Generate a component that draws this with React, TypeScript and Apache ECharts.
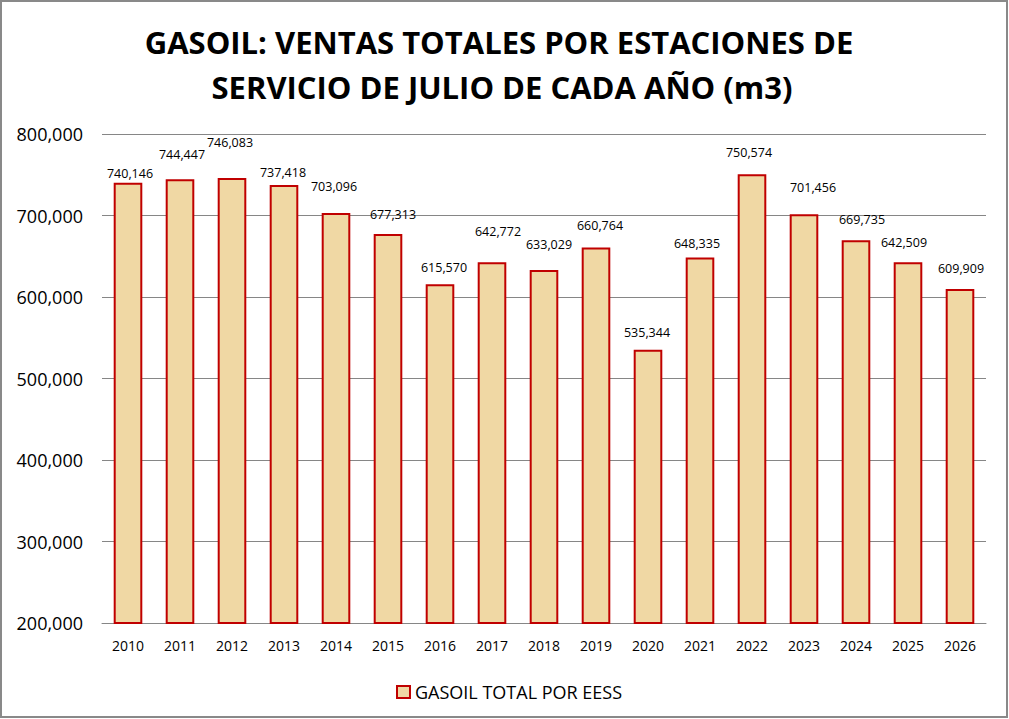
import React, { useEffect, useRef } from "react";
import * as echarts from "echarts";

const years = ["2010","2011","2012","2013","2014","2015","2016","2017","2018","2019","2020","2021","2022","2023","2024","2025","2026"];
const ventas = [740146, 744447, 746083, 737418, 703096, 677313, 615570, 642772, 633029, 660764, 535344, 648335, 750574, 701456, 669735, 642509, 609909];
// manual label nudges (as in the original, where labels were dragged)
const labelDx = [2, 2, -2, -1, -2, 5, 4, 6, 5, 4, -1, -3, -3, 9, 6, -4, 1];
const labelDy = [1, -14, -25, -2, -16, -9, -6, -20, -15, -11, -7, -4, -11, -16, -10, -9, -10];
const titleLines = ["GASOIL: VENTAS TOTALES POR ESTACIONES DE", "SERVICIO DE JULIO DE CADA AÑO (m3)"];
const seriesName = "GASOIL TOTAL POR EESS";

const FONT = "'Open Sans', 'Noto Sans', sans-serif";

export default function App() {
  const ref = useRef<HTMLDivElement>(null);
  useEffect(() => {
    document.body.style.margin = "0";
    const chart = echarts.init(ref.current!, null, { renderer: "svg" });
    const fmt = (v: number) => v.toLocaleString("en-US");
    const titleStyle = { fontSize: 31, fontWeight: "bold", fill: "#000", fontFamily: FONT, textAlign: "center", textVerticalAlign: "middle" };
    chart.setOption({
      animation: false,
      backgroundColor: "#ffffff",
      textStyle: { fontFamily: FONT },
      graphic: [
        { type: "text", x: 499, y: 42, silent: true, style: { ...titleStyle, text: titleLines[0] } },
        { type: "text", x: 502, y: 87, silent: true, style: { ...titleStyle, text: titleLines[1] } },
        {
          type: "rect",
          shape: { x: 1, y: 1, width: 1006, height: 716 },
          style: { fill: "none", stroke: "#898989", lineWidth: 2 },
          silent: true,
          z: 100,
        },
      ],
      grid: { left: 102, right: 23, top: 134, bottom: 96, containLabel: false },
      legend: {
        top: 678,
        left: 391,
        icon: "rect",
        itemWidth: 13,
        itemHeight: 12,
        itemGap: 6,
        itemStyle: { borderWidth: 2 },
        textStyle: { fontSize: 18, color: "#000", fontFamily: FONT },
        data: [seriesName],
      },
      xAxis: {
        type: "category",
        data: years,
        axisLine: { show: true, lineStyle: { color: "#868686", width: 1 } },
        axisTick: { show: false },
        axisLabel: { fontSize: 14, color: "#000", margin: 15, fontFamily: FONT },
      },
      yAxis: {
        type: "value",
        min: 200000,
        max: 800000,
        interval: 100000,
        axisLine: { show: false },
        axisTick: { show: false },
        splitLine: { lineStyle: { color: "#868686", width: 1 } },
        axisLabel: { fontSize: 18, color: "#000", margin: 19, formatter: (v: number) => fmt(v), fontFamily: FONT },
      },
      series: [
        {
          name: seriesName,
          type: "bar",
          barWidth: "55%",
          itemStyle: { color: "#F0D8A4", borderColor: "#C00000", borderWidth: 2 },
          label: {
            show: true,
            position: "top",
            distance: 4,
            fontSize: 12.5,
            color: "#000",
            fontFamily: FONT,
            formatter: (p: any) => fmt(p.value),
          },
          data: ventas.map((v, i) => ({
            value: v,
            label: { offset: [labelDx[i], labelDy[i]] },
          })),
        },
      ],
    });
    return () => chart.dispose();
  }, []);
  return <div ref={ref} style={{ width: 1009, height: 719 }} />;
}
